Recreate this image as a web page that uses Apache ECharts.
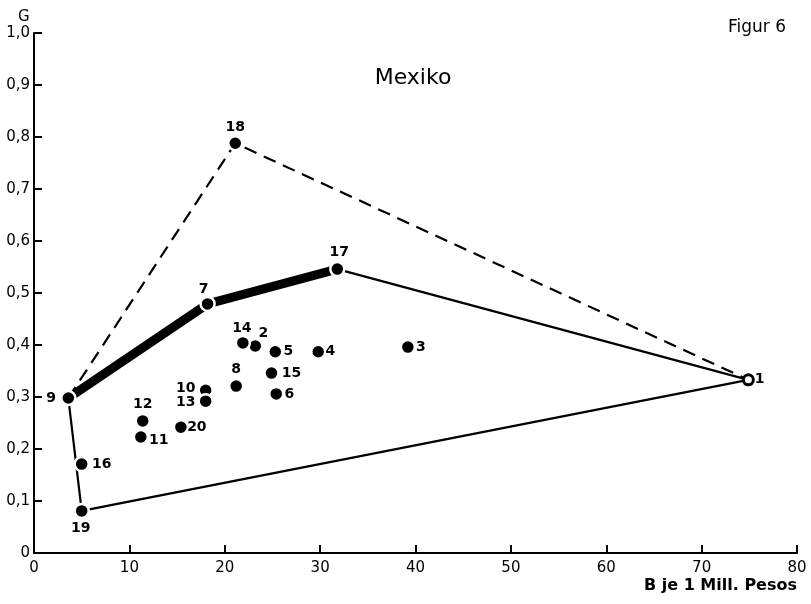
<!DOCTYPE html>
<html>
<head>
<meta charset="utf-8">
<script src="https://cdn.jsdelivr.net/npm/echarts@6/dist/echarts.min.js"></script>
<style>html,body{margin:0;padding:0;background:#fff}#c{width:811px;height:604px}</style>
</head>
<body>
<div id="c"></div>
<script>
// ---- data ----
const pointIds = ['1','2','3','4','5','6','7','8','9','10','11','12','13','14','15','16','17','18','19','20'];
const bValues  = [74.9, 23.2, 39.2, 29.8, 25.3, 25.4, 18.2, 21.2, 3.6, 18.0, 11.2, 11.4, 18.0, 21.9, 24.9, 5.0, 31.8, 21.1, 5.0, 15.4];
const gValues  = [0.333, 0.398, 0.396, 0.387, 0.387, 0.306, 0.479, 0.321, 0.298, 0.313, 0.223, 0.254, 0.292, 0.404, 0.346, 0.171, 0.546, 0.788, 0.081, 0.242];
const solidPath  = ['9','19','1','17'];
const dashedPath = ['9','18','1'];
const thickPath  = ['9','7','17'];
const xTickValues = [0,10,20,30,40,50,60,70,80];
const yTickLabels = ['0','0,1','0,2','0,3','0,4','0,5','0,6','0,7','0,8','0,9','1,0'];

// ---- build ----
const FONT = '"DejaVu Sans", "Liberation Sans", sans-serif';
const ptOf = id => { const i = pointIds.indexOf(id); return [bValues[i], gValues[i]]; };
const pathData = p => p.map(ptOf);

const labelPos = {
  '1':['right',[-2,0]], '2':['top',[8,5]], '3':['right',[-2,0]], '4':['right',[-3,0]], '5':['right',[-2,0]],
  '6':['right',[-2,0]], '7':['top',[-4,3]], '8':['top',[0,1]], '9':['left',[-2,0]], '10':['left',[0,-2]],
  '11':['right',[-2,3]], '12':['top',[0,1]], '13':['left',[0,1]], '14':['top',[-1,3]], '15':['right',[0,0]],
  '16':['right',[0,0]], '17':['top',[2,1]], '18':['top',[0,1]], '19':['bottom',[-1,0]], '20':['right',[-4,0]]
};

const scatterData = pointIds.map((id, i) => {
  const lp = labelPos[id];
  const d = {
    value: [bValues[i], gValues[i]],
    name: id,
    label: { position: lp[0], offset: lp[1] }
  };
  if (id === '1') {
    d.itemStyle = { color: '#fff', borderColor: '#000', borderWidth: 3, opacity: 1 };
    d.symbolSize = 10;
  }
  return d;
});

const chart = echarts.init(document.getElementById('c'), null, { renderer: 'canvas' });
chart.setOption({
  animation: false,
  backgroundColor: '#fff',
  grid: { left: 34, right: 14, top: 33, bottom: 51, containLabel: false },
  title: [
    { text: 'Mexiko', left: 408, top: 62, textAlign: 'center',
      textStyle: { fontFamily: FONT, fontSize: 22, fontWeight: 'normal', color: '#000' } },
    { text: 'Figur 6', right: 20, top: 14,
      textStyle: { fontFamily: FONT, fontSize: 17, fontWeight: 'normal', color: '#000' } },
    { text: 'G', left: 13, top: 5,
      textStyle: { fontFamily: FONT, fontSize: 15, fontWeight: 'normal', color: '#000' } }
  ],
  xAxis: {
    type: 'value', min: 0, max: 80, interval: 10,
    name: 'B je 1 Mill. Pesos', nameLocation: 'end', nameGap: 0,
    nameTextStyle: { fontFamily: FONT, fontSize: 16, fontWeight: 'bold', color: '#000', align: 'right', verticalAlign: 'top', padding: [25, 0, 0, 0] },
    axisLine: { lineStyle: { color: '#000', width: 2 } },
    axisTick: { inside: true, length: 8, lineStyle: { color: '#000', width: 2 } },
    axisLabel: { fontFamily: FONT, fontSize: 15, color: '#000', margin: 8,
      formatter: v => xTickValues.includes(v) ? String(v) : '' },
    splitLine: { show: false }
  },
  yAxis: {
    type: 'value', min: 0, max: 1, interval: 0.1,
    axisLine: { lineStyle: { color: '#000', width: 2 } },
    axisTick: { inside: true, length: 8, lineStyle: { color: '#000', width: 2 } },
    axisLabel: { fontFamily: FONT, fontSize: 15, color: '#000', margin: 4,
      formatter: v => yTickLabels[Math.round(v * 10)] },
    splitLine: { show: false }
  },
  series: [
    { type: 'line', data: pathData(solidPath), symbol: 'none', silent: true, z: 2,
      lineStyle: { color: '#000', width: 2.2, opacity: 1 } },
    { type: 'line', data: pathData(dashedPath), symbol: 'none', silent: true, z: 2,
      lineStyle: { color: '#000', width: 2.2, type: [13, 8], opacity: 1 } },
    { type: 'line', data: pathData(thickPath), symbol: 'none', silent: true, z: 3,
      lineStyle: { color: '#000', width: 9, cap: 'butt', join: 'miter', opacity: 1 } },
    { type: 'scatter', data: scatterData, symbol: 'circle', symbolSize: 14, z: 5,
      itemStyle: { color: '#000', borderColor: '#fff', borderWidth: 2.5, opacity: 1 },
      label: { show: true, formatter: p => p.name, distance: 2, opacity: 1,
        fontFamily: FONT, fontSize: 14, fontWeight: 'bold', color: '#000' } }
  ]
});
</script>
</body>
</html>
